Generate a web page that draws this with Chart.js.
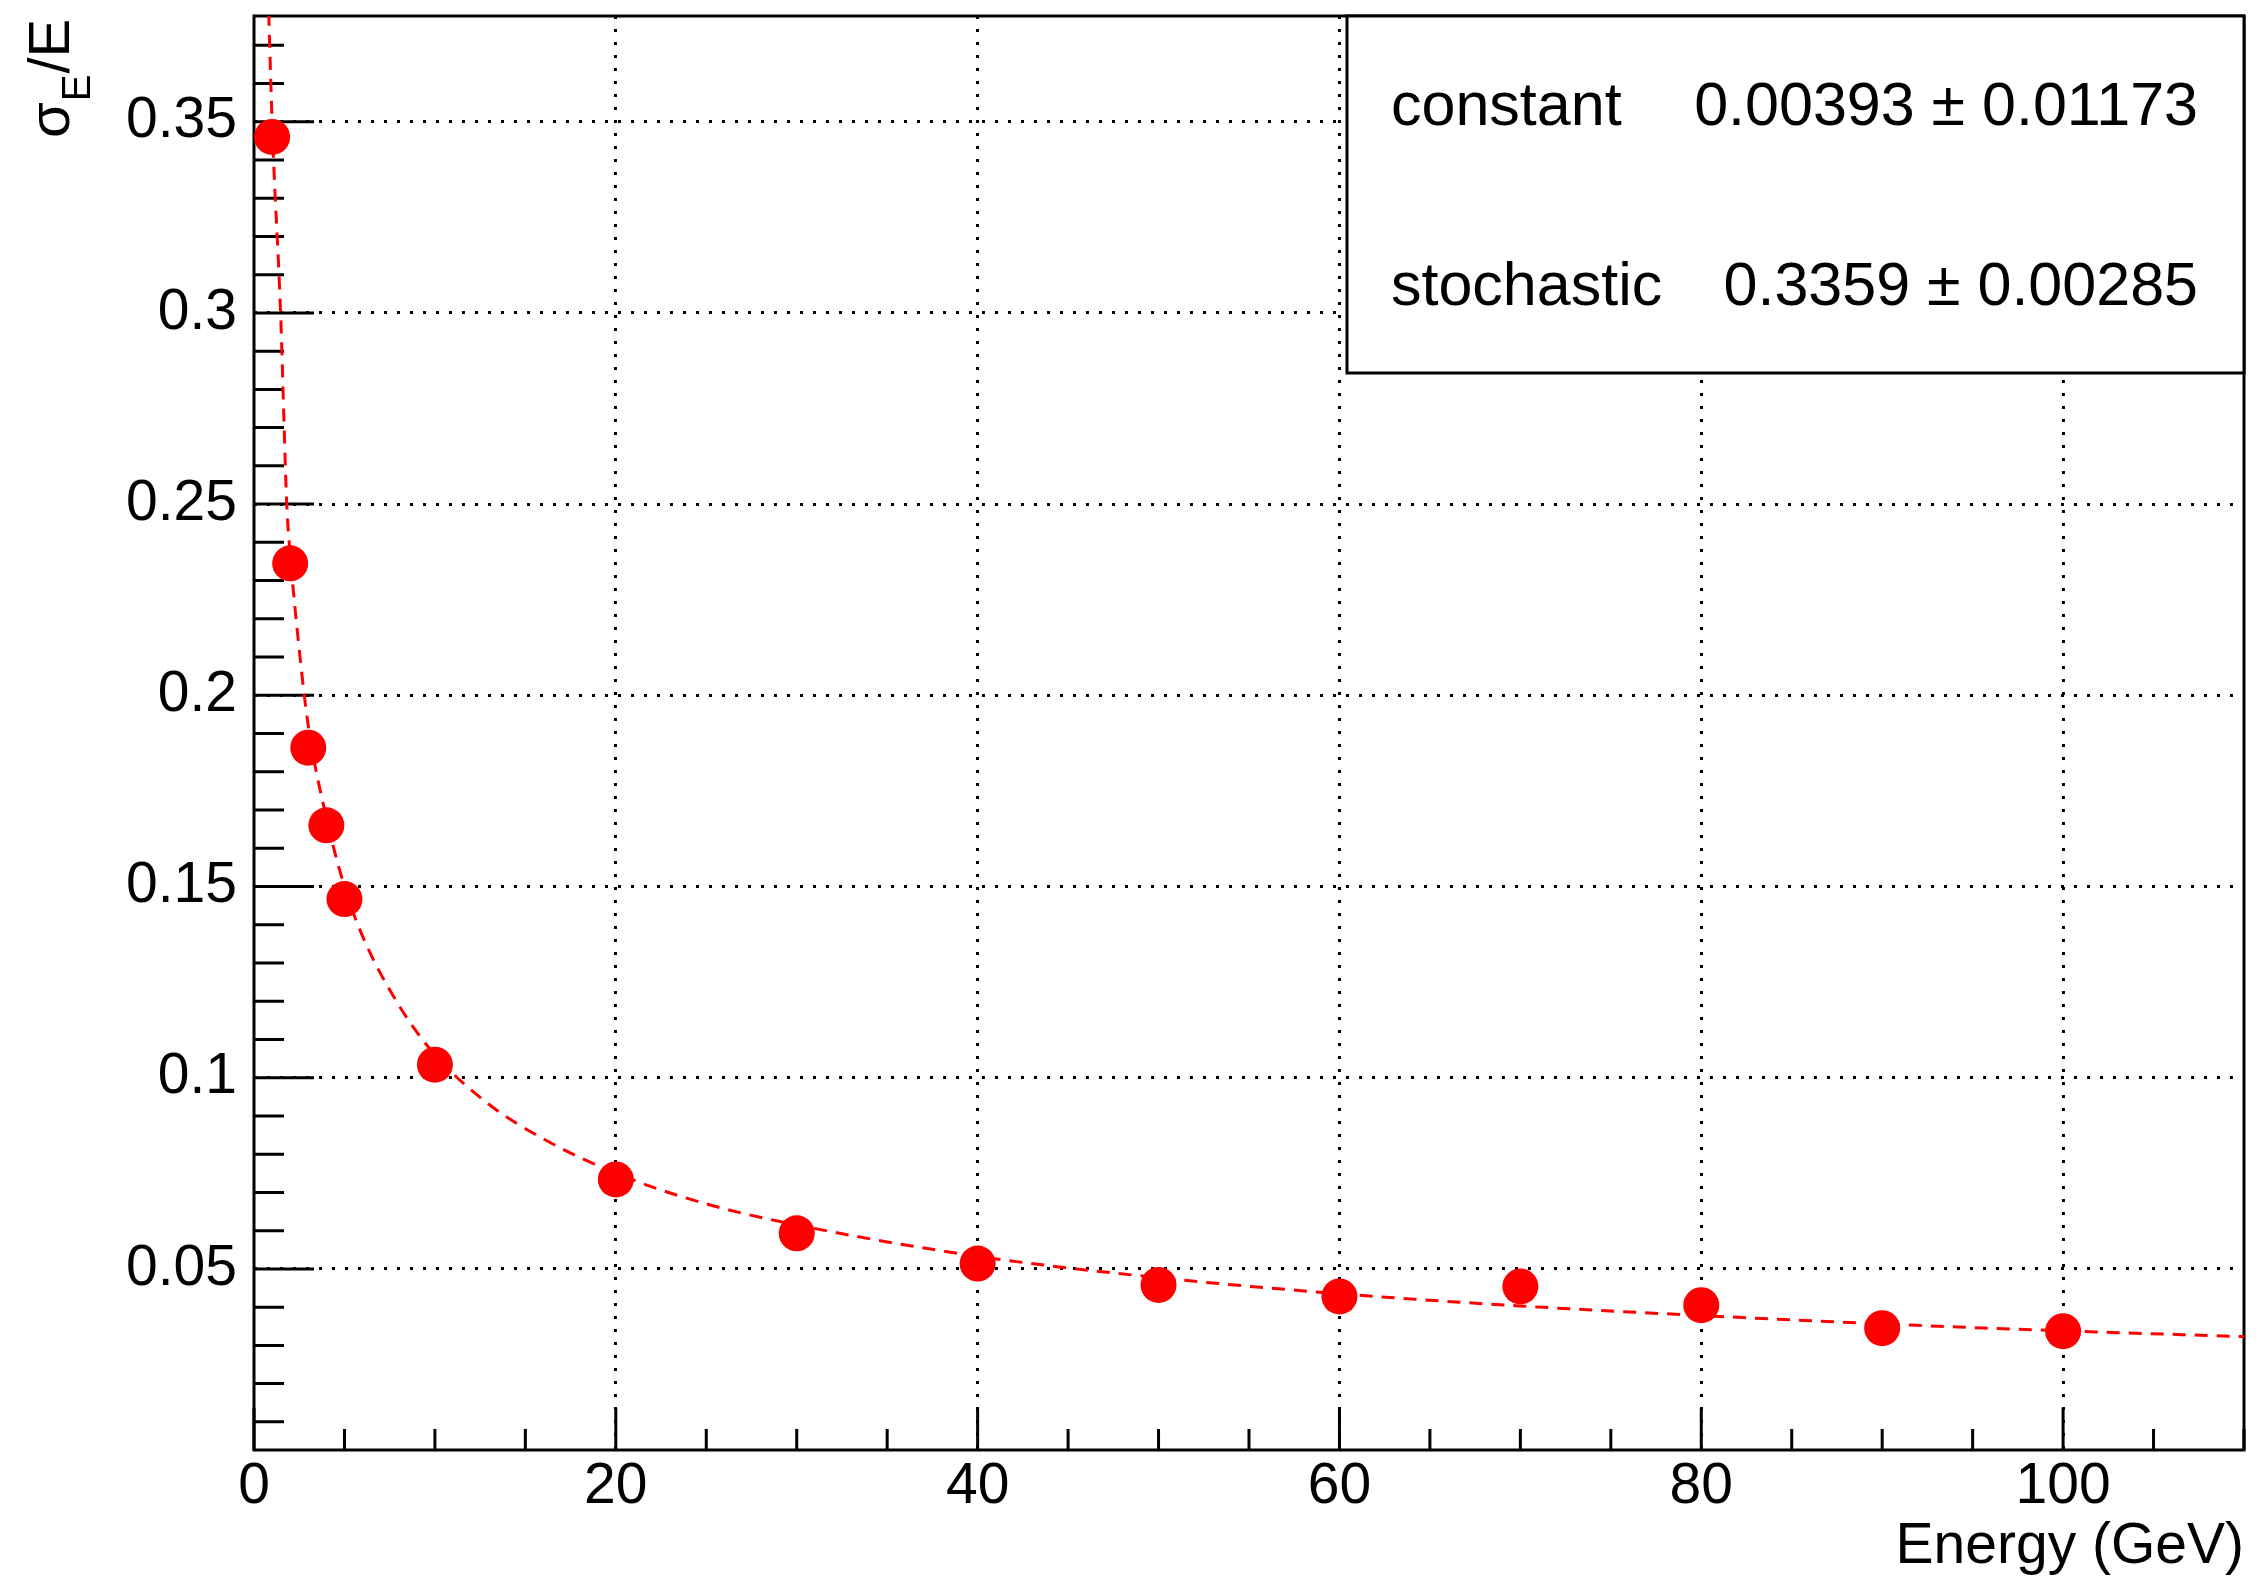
<!DOCTYPE html>
<html>
<head>
<meta charset="utf-8">
<title>Energy resolution</title>
<script src="https://cdn.jsdelivr.net/npm/chart.js@4.4.1/dist/chart.umd.min.js"></script>
<style>
	html, body { margin: 0; padding: 0; background: #fff; }
	#wrap { width: 2259px; height: 1586px; position: relative; }
</style>
</head>
<body>
<div id="wrap"><canvas id="resolutionChart"></canvas></div>
<script>
// measured points (energy in GeV, sigma_E / E)
const energies = [1, 2, 3, 4, 5, 10, 20, 30, 40, 50, 60, 70, 80, 90, 100]
const resolutions = [0.3460, 0.2345, 0.1863, 0.1660, 0.1467, 0.1034, 0.0734, 0.0593, 0.0514, 0.0458, 0.0428, 0.0454, 0.0405, 0.0345, 0.0337]

// fitted curve
const fitEnergies = [0.75, 0.82, 1.03, 1.47, 1.81, 2, 2.5, 3, 4, 5, 6, 8, 10, 13, 16, 20, 25, 30, 40, 50, 60, 70, 80, 90, 100, 110]
const fitResolutions = [0.39, 0.3776, 0.346, 0.300, 0.250, 0.237, 0.212, 0.192, 0.168, 0.150, 0.137, 0.119, 0.106, 0.093, 0.084, 0.075, 0.067, 0.0615, 0.0533, 0.0477, 0.0435, 0.0403, 0.0378, 0.0356, 0.0338, 0.0323]

// fit box
const paramNames = ['constant', 'stochastic']
const paramValues = ['0.00393', '0.3359']
const paramErrors = ['0.01173', '0.00285']

const xTitle = 'Energy (GeV)'

const FONT = 'Liberation Sans, Arial, Helvetica, sans-serif'
Chart.defaults.font.family = FONT
Chart.defaults.color = '#000'

const isMajorY = v => Math.round(v * 100) % 5 === 0
const isMajorX = v => Math.round(v) % 20 === 0

//frame and inward ticks
const frameTicks = {
	id: 'frameTicks',
	beforeDatasetsDraw(chart) {
		const {ctx, chartArea: a, scales: {x, y}} = chart
		ctx.save()
		ctx.strokeStyle = '#000'
		ctx.lineWidth = 3
		ctx.beginPath()
		x.ticks.forEach(t => {
			const px = x.getPixelForValue(t.value)
			const len = isMajorX(t.value) ? 42 : 21
			ctx.moveTo(px, a.bottom)
			ctx.lineTo(px, a.bottom - len)
		})
		y.ticks.forEach(t => {
			const py = y.getPixelForValue(t.value)
			const len = isMajorY(t.value) ? 60 : 30
			ctx.moveTo(a.left, py)
			ctx.lineTo(a.left + len, py)
		})
		ctx.stroke()
		ctx.strokeRect(a.left, a.top, a.right - a.left, a.bottom - a.top)
		ctx.restore()
	}
}

//y title with subscript
const yTitle = {
	id: 'yTitle',
	afterDraw(chart) {
		const {ctx} = chart
		ctx.save()
		ctx.translate(69, 138)
		ctx.rotate(-Math.PI / 2)
		ctx.fillStyle = '#000'
		ctx.textBaseline = 'alphabetic'
		ctx.textAlign = 'left'
		ctx.font = `58px ${FONT}`
		ctx.fillText('σ', 0, 0)
		let w = ctx.measureText('σ').width
		ctx.font = `40px ${FONT}`
		ctx.fillText('E', w + 1, 21)
		w += ctx.measureText('E').width + 2
		ctx.font = `58px ${FONT}`
		ctx.fillText('/E', w, 0)
		ctx.restore()
	}
}

//fit parameter box
const fitBox = {
	id: 'fitBox',
	afterDatasetsDraw(chart) {
		const {ctx, chartArea: a} = chart
		const left = a.right - 897
		const bottom = 373
		ctx.save()
		ctx.fillStyle = '#fff'
		ctx.fillRect(left, a.top, a.right - left, bottom - a.top)
		ctx.strokeStyle = '#000'
		ctx.lineWidth = 3
		ctx.strokeRect(left, a.top, a.right - left, bottom - a.top)
		ctx.fillStyle = '#000'
		ctx.font = `61px ${FONT}`
		ctx.textBaseline = 'alphabetic'
		paramNames.forEach((name, i) => {
			const base = 125 + i * 180
			ctx.textAlign = 'left'
			ctx.fillText(name, left + 44, base)
			ctx.textAlign = 'right'
			ctx.fillText(`${paramValues[i]} ± ${paramErrors[i]}`, a.right - 46, base)
		})
		ctx.restore()
	}
}

const loadChart = () => {
	const canvas = document.getElementById('resolutionChart')
	new Chart(canvas, {
		type: 'scatter',
		data: {
			datasets: [{
				label: 'data',
				data: energies.map((e, i) => ({x: e, y: resolutions[i]})),
				pointRadius: 18,
				pointHoverRadius: 18,
				pointBackgroundColor: '#ff0000',
				pointBorderColor: '#ff0000',
				pointBorderWidth: 0,
				showLine: false,
				clip: false,
				order: 0
			}, {
				label: 'fit',
				data: fitEnergies.map((e, i) => ({x: e, y: fitResolutions[i]})),
				showLine: true,
				borderColor: '#ff0000',
				borderWidth: 3,
				borderDash: [13, 9],
				pointRadius: 0,
				cubicInterpolationMode: 'monotone',
				order: 1
			}]
		},
		options: {
			responsive: true,
			maintainAspectRatio: false,
			animation: false,
			layout: {autoPadding: false, padding: {left: 0, top: 16, right: 15, bottom: 0}},
			plugins: {
				legend: {display: false},
				tooltip: {enabled: false}
			},
			scales: {
				x: {
					type: 'linear',
					min: 0,
					max: 110,
					afterFit: s => {
						s.height = 136
						s.paddingLeft = 0
						s.paddingRight = 0
					},
					ticks: {
						stepSize: 5,
						autoSkip: false,
						maxRotation: 0,
						padding: 3,
						font: {size: 57},
						color: '#000',
						callback: v => isMajorX(v) ? String(v) : ''
					},
					grid: {
						drawTicks: false,
						lineWidth: 3,
						color: c => (c.tick && isMajorX(c.tick.value) && c.tick.value > 0) ? '#000' : 'rgba(0,0,0,0)'
					},
					border: {display: false, dash: [3, 10]},
					title: {
						display: true,
						text: xTitle,
						align: 'end',
						color: '#000',
						font: {size: 57},
						padding: {top: 0, bottom: 5}
					}
				},
				y: {
					type: 'linear',
					min: 0.00264,
					max: 0.37764,
					afterFit: s => {
						s.width = 254
						s.paddingTop = 0
						s.paddingBottom = 0
					},
					ticks: {
						stepSize: 0.01,
						includeBounds: false,
						autoSkip: false,
						padding: 17,
						font: {size: 57},
						color: '#000',
						callback: v => {
							const k = Math.round(v * 100)
							return k % 5 === 0 ? String(k / 100) : ''
						}
					},
					grid: {
						drawTicks: false,
						lineWidth: 3,
						color: c => (c.tick && isMajorY(c.tick.value)) ? '#000' : 'rgba(0,0,0,0)'
					},
					border: {display: false, dash: [3, 10]}
				}
			}
		},
		plugins: [frameTicks, fitBox, yTitle]
	})
}

document.addEventListener('DOMContentLoaded', loadChart)
</script>
</body>
</html>
